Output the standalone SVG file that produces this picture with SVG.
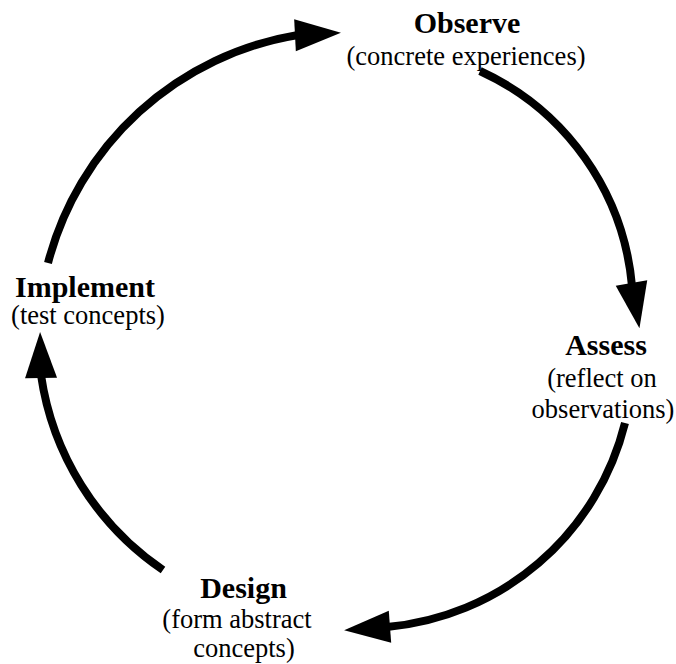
<svg xmlns="http://www.w3.org/2000/svg" xmlns:xlink="http://www.w3.org/1999/xlink" width="676" height="664" viewBox="0 0 676 664">
  <style>
    .arc { fill: none; stroke: #000; stroke-width: 8; stroke-linecap: butt; }
    .head { fill: #000; stroke: none; }
    .title { font-family: "Liberation Serif", "Times New Roman", serif; font-weight: bold; font-size: 30px; fill: #000; text-anchor: middle; }
    .sub { font-family: "Liberation Serif", "Times New Roman", serif; font-size: 26.5px; fill: #000; text-anchor: middle; }
  </style>
  <defs>
    <path id="ah" d="M-3,-16 L43,0 L-3,16 Z"/>
  </defs>
  <rect width="676" height="664" fill="#fff"/>
  <g id="connectors">
    <path class="arc" d="M48,263 A310,310 0 0 1 298,35"/>
    <use xlink:href="#ah" class="head" transform="translate(298,35) rotate(-3)"/>
    <path class="arc" d="M480,71 A262,262 0 0 1 632,286"/>
    <use xlink:href="#ah" class="head" transform="translate(632,286) rotate(80)"/>
    <path class="arc" d="M625,423 A270,270 0 0 1 387,627"/>
    <use xlink:href="#ah" class="head" transform="translate(387,627) rotate(175.7)"/>
    <path class="arc" d="M163,570 A285,285 0 0 1 41,375"/>
    <use xlink:href="#ah" class="head" transform="translate(41,375) rotate(-91.2)"/>
  </g>
  <g id="observe">
    <text class="title" x="467" y="33">Observe</text>
    <text class="sub" x="466" y="65">(concrete experiences)</text>
  </g>
  <g id="assess">
    <text class="title" x="606" y="355">Assess</text>
    <text class="sub" x="602" y="387">(reflect on</text>
    <text class="sub" x="603" y="418">observations)</text>
  </g>
  <g id="design">
    <text class="title" x="243.5" y="598">Design</text>
    <text class="sub" x="237" y="628">(form abstract</text>
    <text class="sub" x="244" y="657">concepts)</text>
  </g>
  <g id="implement">
    <text class="title" x="85" y="297">Implement</text>
    <text class="sub" x="88" y="324">(test concepts)</text>
  </g>
</svg>
